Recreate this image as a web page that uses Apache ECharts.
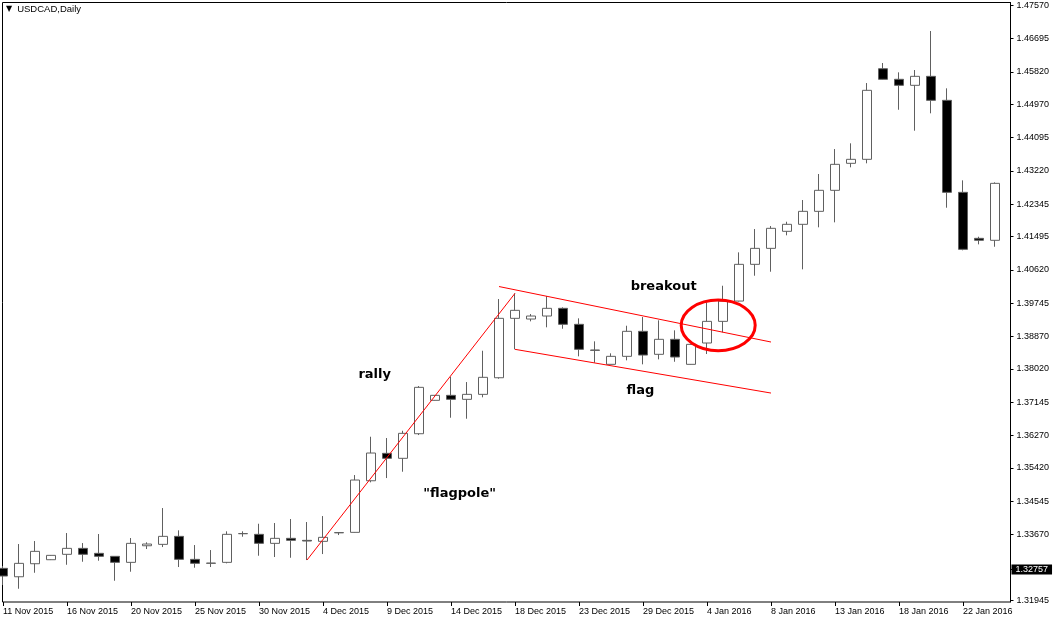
<!DOCTYPE html>
<html>
<head>
<meta charset="utf-8">
<script src="https://cdn.jsdelivr.net/npm/echarts@6/dist/echarts.min.js"></script>
<style>
html,body{margin:0;padding:0;background:#fff;}
#chart{width:1056px;height:624px;}
</style>
</head>
<body>
<div id="chart"></div>
<script>
// ---- data (USDCAD, Daily) ----
const dates = ['11 Nov 2015','12 Nov 2015','13 Nov 2015','15 Nov 2015','16 Nov 2015','17 Nov 2015','18 Nov 2015','19 Nov 2015','20 Nov 2015','22 Nov 2015',
'23 Nov 2015','24 Nov 2015','25 Nov 2015','26 Nov 2015','27 Nov 2015','29 Nov 2015','30 Nov 2015','1 Dec 2015','2 Dec 2015','3 Dec 2015',
'4 Dec 2015','6 Dec 2015','7 Dec 2015','8 Dec 2015','9 Dec 2015','10 Dec 2015','11 Dec 2015','13 Dec 2015','14 Dec 2015','15 Dec 2015',
'16 Dec 2015','17 Dec 2015','18 Dec 2015','20 Dec 2015','21 Dec 2015','22 Dec 2015','23 Dec 2015','24 Dec 2015','27 Dec 2015','28 Dec 2015',
'29 Dec 2015','30 Dec 2015','31 Dec 2015','3 Jan 2016','4 Jan 2016','5 Jan 2016','6 Jan 2016','7 Jan 2016','8 Jan 2016','10 Jan 2016',
'11 Jan 2016','12 Jan 2016','13 Jan 2016','14 Jan 2016','15 Jan 2016','17 Jan 2016','18 Jan 2016','19 Jan 2016','20 Jan 2016','21 Jan 2016',
'22 Jan 2016','24 Jan 2016','25 Jan 2016'];

const opens = [1.32785,1.32564,1.32906,1.33011,1.33153,1.33310,1.33179,1.33100,1.32942,1.33378,
1.33415,1.33625,1.33021,1.32916,1.32942,1.33694,1.33678,1.33441,1.33573,1.33520,
1.33494,1.33717,1.33730,1.35085,1.35805,1.35674,1.36320,1.37197,1.37328,1.37223,
1.37354,1.37790,1.39350,1.39332,1.39411,1.39613,1.39193,1.38518,1.38142,1.38352,
1.39009,1.38405,1.38799,1.38142,1.38702,1.39271,1.39804,1.40768,1.41188,1.41635,
1.41819,1.42160,1.42712,1.43421,1.43526,1.45905,1.45627,1.45469,1.45705,1.45075,
1.42659,1.41451,1.41399];
const closes = [1.32583,1.32916,1.33231,1.33126,1.33310,1.33153,1.33100,1.32942,1.33441,1.33423,
1.33625,1.33021,1.32916,1.32924,1.33678,1.33699,1.33441,1.33573,1.33520,1.33502,
1.33599,1.33725,1.35104,1.35813,1.35674,1.36330,1.37538,1.37328,1.37223,1.37354,
1.37801,1.39350,1.39560,1.39411,1.39613,1.39193,1.38536,1.38510,1.38352,1.39009,
1.38386,1.38799,1.38334,1.38667,1.39271,1.39804,1.40768,1.41188,1.41714,1.41819,
1.42160,1.42712,1.43394,1.43526,1.45338,1.45627,1.45469,1.45705,1.45075,1.42659,
1.41162,1.41399,1.42895];
const lows = [1.32346,1.32249,1.32669,1.33003,1.32879,1.32958,1.32985,1.32459,1.32696,1.33292,
1.33344,1.32819,1.32801,1.32819,1.32916,1.33615,1.33116,1.33082,1.33063,1.33003,
1.33160,1.33659,1.33725,1.35043,1.35156,1.35322,1.36285,1.37192,1.36740,1.36714,
1.37276,1.37764,1.38536,1.39271,1.39114,1.39077,1.38352,1.38184,1.38142,1.38247,
1.38142,1.38273,1.38210,1.38137,1.38413,1.38983,1.39791,1.40469,1.40574,1.41530,
1.40637,1.41740,1.41871,1.43316,1.43421,1.45621,1.44828,1.44277,1.44734,1.42255,
1.41136,1.41293,1.41230];
const highs = [1.32845,1.33423,1.33502,1.33134,1.33712,1.33449,1.33686,1.33108,1.33581,1.33468,
1.34368,1.33783,1.33397,1.33265,1.33757,1.33757,1.33956,1.33975,1.34080,1.34001,
1.34158,1.33738,1.35235,1.36241,1.36207,1.36398,1.37572,1.37336,1.37817,1.37677,
1.38499,1.39857,1.40007,1.39463,1.39936,1.39639,1.39350,1.38746,1.38431,1.39156,
1.39384,1.39298,1.39035,1.38675,1.39770,1.40206,1.41083,1.41695,1.41774,1.41887,
1.42457,1.43140,1.43796,1.43946,1.45529,1.46055,1.45810,1.45871,1.46895,1.45390,
1.42974,1.41493,1.42922];

// price scale tick labels
const yTicks = [1.47570,1.46695,1.45820,1.44970,1.44095,1.43220,1.42345,1.41495,1.40620,1.39745,
1.38870,1.38020,1.37145,1.36270,1.35420,1.34545,1.33670,1.31945];
const lastPrice = [1.32757];
const yMin = 1.31901, yMax = 1.47644;

// drawn trend lines: [bar, price] at start and end
const trendStart = [[19, 1.33003], [31, 1.40185], [32, 1.38536]];
const trendEnd   = [[32, 1.40007], [48, 1.38728], [48, 1.37388]];

// text annotations anchored in bar/price space
const noteText  = ['rally', '"flagpole"', 'breakout', 'flag'];
const noteBar   = [23.23, 28.54, 41.29, 39.84];
const notePrice = [1.37861, 1.34749, 1.40172, 1.37441];

// breakout ellipse anchor
const ringBar = [44.7];
const ringPrice = [1.39166];

const ohlc = dates.map((d, i) => [opens[i], closes[i], lows[i], highs[i]]);

const chart = echarts.init(document.getElementById('chart'), null, {renderer: 'canvas'});
const axisFont = {fontFamily: 'Liberation Sans, Arial, sans-serif', fontSize: 9, color: '#000'};

const option = {
  animation: false,
  backgroundColor: '#fff',
  title: {
    text: '{t|▼}USDCAD,Daily',
    left: 6, top: 4, padding: 0,
    textStyle: {
      fontFamily: 'Liberation Sans, Arial, sans-serif', fontSize: 9.5, fontWeight: 'normal', color: '#000',
      rich: { t: {fontFamily: 'DejaVu Sans', fontSize: 8, color: '#000', padding: [0, 5, 0, 0]} }
    }
  },
  grid: [
    {left: -5, width: 1008, top: 2.5, bottom: 22, show: false, outerBoundsMode: 'none', containLabel: false},
    {left: 2.5, right: 45.5, top: 2.5, bottom: 22, show: true, borderColor: '#000', borderWidth: 1,
     backgroundColor: 'transparent', outerBoundsMode: 'none', containLabel: false}
  ],
  xAxis: [
    {
      type: 'category', gridIndex: 0, data: dates, boundaryGap: true,
      axisLine: {show: false},
      axisTick: {show: true, alignWithLabel: true, interval: 3, length: 4, lineStyle: {color: '#000'}},
      axisLabel: Object.assign({interval: 3, align: 'left', margin: 5, showMinLabel: true}, axisFont),
      splitLine: {show: false}
    },
    {type: 'value', gridIndex: 1, show: false, min: 0, max: 1}
  ],
  yAxis: [
    {
      type: 'value', gridIndex: 0, position: 'right', offset: 7.5, min: yMin, max: yMax, scale: true,
      axisLine: {show: true, lineStyle: {color: '#000'}},
      axisTick: {show: true, customValues: yTicks, length: 3, lineStyle: {color: '#000'}},
      axisLabel: Object.assign({customValues: yTicks, margin: 6, formatter: v => Number(v).toFixed(5)}, axisFont),
      splitLine: {show: false}
    },
    {
      type: 'value', gridIndex: 0, position: 'right', offset: 7.5, min: yMin, max: yMax, scale: true,
      axisLine: {show: false},
      axisTick: {show: true, customValues: lastPrice, length: 3, lineStyle: {color: '#000'}},
      axisLabel: Object.assign({customValues: lastPrice, margin: 1, formatter: v => Number(v).toFixed(5)}, axisFont,
        {color: '#fff', backgroundColor: '#000', padding: [1, 4, 0, 4], lineHeight: 9}),
      splitLine: {show: false}
    },
    {type: 'value', gridIndex: 1, show: false, min: 0, max: 1}
  ],
  series: [{
    type: 'candlestick',
    xAxisIndex: 0, yAxisIndex: 0,
    data: ohlc,
    barWidth: 9,
    itemStyle: {
      color: '#ffffff', color0: '#000000',
      borderColor: '#606060', borderColor0: '#606060', borderColorDoji: '#606060',
      borderWidth: 1
    },
    emphasis: {disabled: true},
    markLine: {
      silent: true, symbol: ['none', 'none'], animation: false,
      label: {show: false},
      lineStyle: {color: '#ff0000', width: 1, type: 'solid'},
      emphasis: {disabled: true},
      data: trendStart.map((s, i) => [
        {coord: [dates[s[0]], s[1]]},
        {coord: [dates[trendEnd[i][0]], trendEnd[i][1]]}
      ])
    }
  }]
};

chart.setOption(option);

function barX(f) {
  const i = Math.floor(f);
  const a = chart.convertToPixel({xAxisIndex: 0}, dates[i]);
  const b = chart.convertToPixel({xAxisIndex: 0}, dates[Math.min(i + 1, dates.length - 1)]);
  return a + (b - a) * (f - i);
}
function priceY(p) { return chart.convertToPixel({yAxisIndex: 0}, p); }

const graphics = noteText.map((t, i) => ({
  type: 'text', silent: true, z: 10,
  x: barX(noteBar[i]), y: priceY(notePrice[i]),
  style: {
    text: t, fill: '#000', align: 'center', verticalAlign: 'middle',
    font: 'bold 13px "DejaVu Sans", sans-serif'
  }
}));
graphics.push({
  type: 'ellipse', silent: true, z: 10,
  shape: {cx: barX(ringBar[0]), cy: priceY(ringPrice[0]), rx: 37, ry: 25.3},
  style: {fill: 'none', stroke: '#ff0000', lineWidth: 3}
});
chart.setOption({graphic: graphics});
</script>
</body>
</html>
